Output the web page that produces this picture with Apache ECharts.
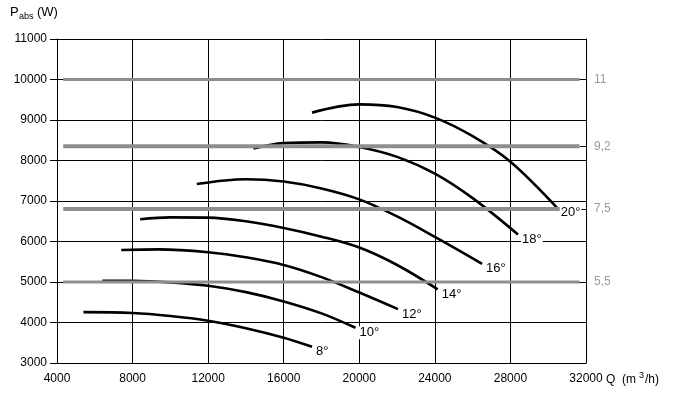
<!DOCTYPE html>
<html>
<head>
<meta charset="utf-8">
<script src="https://cdn.jsdelivr.net/npm/echarts@6/dist/echarts.min.js"></script>
<style>
  html, body { margin: 0; padding: 0; background: #fff; }
  #chart { width: 682px; height: 398px; }
</style>
</head>
<body>
<div id="chart"></div>
<script>
// curves: [Q (m3/h), Pabs (W)]
var curve8 = [[5400, 4255], [8000, 4233], [10000, 4160], [12000, 4044], [14000, 3860], [16000, 3624], [17500, 3400]];
var curve10 = [[6400, 5030], [8000, 5030], [10000, 4990], [12000, 4907], [14000, 4750], [16000, 4520], [18000, 4225], [19800, 3870]];
var curve12 = [[7400, 5790], [9400, 5805], [12000, 5735], [14000, 5610], [16000, 5420], [18000, 5120], [20000, 4740], [22050, 4330]];
var curve14 = [[8400, 6550], [10000, 6595], [12000, 6590], [14000, 6500], [16000, 6335], [18000, 6120], [20000, 5850], [22000, 5420], [24150, 4820]];
var curve16 = [[11400, 7420], [14000, 7538], [16000, 7480], [18000, 7310], [20000, 7040], [22000, 6620], [24000, 6115], [26500, 5450]];
var curve18 = [[14400, 8295], [16000, 8430], [18000, 8448], [20000, 8334], [22000, 8090], [24000, 7675], [26000, 7070], [28400, 6173]];
var curve20 = [[17500, 9182], [20000, 9385], [22000, 9320], [24000, 9059], [26000, 8600], [28000, 7968], [30450, 6840]];

var curveNames = ['8°', '10°', '12°', '14°', '16°', '18°', '20°'];
var curves = [curve8, curve10, curve12, curve14, curve16, curve18, curve20];

// motor power lines (W) and their labels (kW)
var motorLevels = [10000, 8350, 6800, 5000];
var motorLabels = ['11', '9,2', '7,5', '5,5'];
var motorWidths = [3, 4, 4, 3];
var motorStart = 4330;
var motorEnd = 31660;

var xTicks = { min: 4000, max: 32000, interval: 4000 };
var yTicks = { min: 3000, max: 11000, interval: 1000 };

var font = "'Liberation Sans', Arial, sans-serif";

var myChart = echarts.init(document.getElementById('chart'), null, { renderer: 'canvas' });

var series = [];
curves.forEach(function (c, i) {
    series.push({
        name: curveNames[i],
        type: 'line',
        data: c,
        smooth: 0.35,
        symbol: 'none',
        lineStyle: { color: '#000', width: 2.6 },
        endLabel: {
            show: true,
            formatter: curveNames[i],
            color: '#000',
            fontSize: 13,
            fontFamily: font,
            backgroundColor: '#fff',
            padding: [0, 1, 0, 1],
            distance: 3,
            offset: [0, 5]
        }
    });
});

motorLevels.forEach(function (v, i) {
    series.push({
        type: 'line',
        data: [[motorStart, v], [motorEnd, v]],
        symbol: 'none',
        silent: true,
        lineStyle: { color: '#8e8e8e', width: motorWidths[i] }
    });
});

var labelMap = {};
motorLevels.forEach(function (v, i) { labelMap[v] = motorLabels[i]; });

function plain(v) { return String(v); }

option = {
    animation: false,
    backgroundColor: '#fff',
    grid: {
        left: 57,
        right: 96,
        top: 39,
        bottom: 35,
        containLabel: false,
        outerBoundsMode: 'none'
    },
    xAxis: {
        type: 'value',
        min: xTicks.min,
        max: xTicks.max,
        interval: xTicks.interval,
        axisLine: { lineStyle: { color: '#000', width: 1 } },
        axisTick: { show: false },
        axisLabel: { color: '#000', fontSize: 12, fontFamily: font, margin: 10, formatter: plain },
        splitLine: { show: true, lineStyle: { color: '#000', width: 1 } }
    },
    yAxis: [{
        type: 'value',
        min: yTicks.min,
        max: yTicks.max,
        interval: yTicks.interval,
        axisLine: { show: true, lineStyle: { color: '#000', width: 1 } },
        axisTick: { show: true, length: 7, lineStyle: { color: '#000' } },
        axisLabel: { color: '#000', fontSize: 12, fontFamily: font, margin: 10, formatter: plain },
        splitLine: { show: true, lineStyle: { color: '#000', width: 1 } }
    }, {
        type: 'value',
        position: 'right',
        min: yTicks.min,
        max: yTicks.max,
        axisLine: { show: true, lineStyle: { color: '#000', width: 1 } },
        axisTick: { show: true, inside: true, length: 6, customValues: motorLevels, lineStyle: { color: '#000' } },
        axisLabel: {
            customValues: motorLevels,
            color: '#9a9a9a',
            fontSize: 12,
            fontFamily: font,
            margin: 8,
            formatter: function (v) { return labelMap[v] || ''; }
        },
        splitLine: { show: false }
    }],
    graphic: [
        { type: 'text', left: 10, top: 6, style: { text: 'P', fontSize: 13, fontFamily: font, fill: '#000' } },
        { type: 'text', left: 19, top: 12, style: { text: 'abs', fontSize: 9, fontFamily: font, fill: '#000' } },
        { type: 'text', left: 37, top: 6, style: { text: '(W)', fontSize: 13, fontFamily: font, fill: '#000' } },
        { type: 'text', left: 606, top: 374, style: { text: 'Q  (m', fontSize: 12, fontFamily: font, fill: '#000' } },
        { type: 'text', left: 639, top: 371, style: { text: '3', fontSize: 9, fontFamily: font, fill: '#000' } },
        { type: 'text', left: 645, top: 374, style: { text: '/h)', fontSize: 12, fontFamily: font, fill: '#000' } }
    ],
    series: series
};

myChart.setOption(option);
</script>
</body>
</html>
